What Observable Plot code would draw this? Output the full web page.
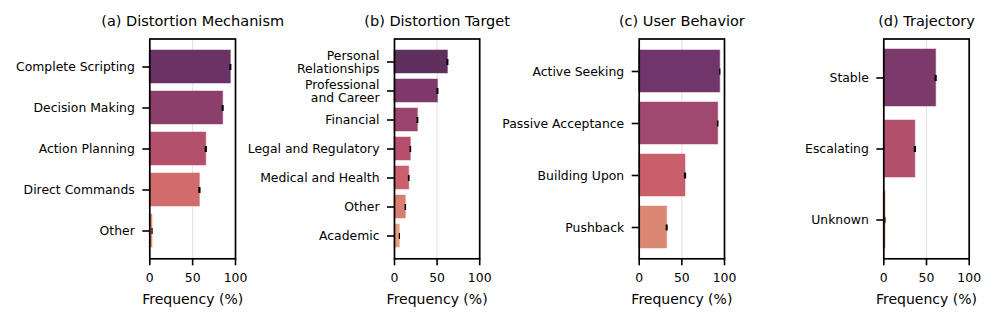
<!DOCTYPE html>
<html><head><meta charset="utf-8">
<script src="https://cdn.jsdelivr.net/npm/d3@7"></script>
<script src="https://cdn.jsdelivr.net/npm/@observablehq/plot@0.6"></script>
<style>
body{margin:0;background:#fff;}
#chart{position:relative;width:996px;height:322px;overflow:hidden;background:#fff;}
#chart svg{position:absolute;left:0;top:0;}
</style></head><body><div id="chart"></div>
<script>
// ---- data ----
const mechanismCategories = ["Complete Scripting", "Decision Making", "Action Planning", "Direct Commands", "Other"];
const mechanismValues = [94.6, 85.6, 65.9, 58.5, 3.2];
const mechanismErrors = [1.2, 1.2, 1.3, 1.3, 0.7];

const targetCategories = ["Personal\nRelationships", "Professional\nand Career", "Financial", "Legal and Regulatory", "Medical and Health", "Other", "Academic"];
const targetValues = [62.7, 51.0, 27.5, 19.2, 17.3, 13.3, 6.3];
const targetErrors = [1.2, 1.2, 1.1, 1.0, 1.0, 0.9, 0.7];

const behaviorCategories = ["Active Seeking", "Passive Acceptance", "Building Upon", "Pushback"];
const behaviorValues = [95.0, 92.6, 54.3, 32.8];
const behaviorErrors = [0.8, 0.9, 1.3, 1.2];

const trajectoryCategories = ["Stable", "Escalating", "Unknown"];
const trajectoryValues = [61.3, 37.0, 2.0];
const trajectoryErrors = [1.3, 1.3, 0.6];

const panelTitles = ["(a) Distortion Mechanism", "(b) Distortion Target", "(c) User Behavior", "(d) Trajectory"];
const xTicks = [0, 50, 100];
const xLabel = "Frequency (%)";

// ---- styles ----
const mechanismColors = ["#6a3265", "#8c3f6b", "#b3506b", "#d16c6c", "#e38b73"];
const targetColors = ["#5f2f5e", "#7e3869", "#9b436f", "#b64f6e", "#cb5f6c", "#d97d70", "#e6a07f"];
const behaviorColors = ["#70356a", "#a0486f", "#c85f6b", "#da8874"];
const trajectoryColors = ["#7c3a6b", "#b2506b", "#c9624f"];

// ---- layout (frame left/right in page px) ----
const panels = [
  {title: panelTitles[0], cats: mechanismCategories, vals: mechanismValues, errs: mechanismErrors, colors: mechanismColors, left: 149.3, right: 235},
  {title: panelTitles[1], cats: targetCategories, vals: targetValues, errs: targetErrors, colors: targetColors, left: 394, right: 479.2},
  {title: panelTitles[2], cats: behaviorCategories, vals: behaviorValues, errs: behaviorErrors, colors: behaviorColors, left: 638.7, right: 724},
  {title: panelTitles[3], cats: trajectoryCategories, vals: trajectoryValues, errs: trajectoryErrors, colors: trajectoryColors, left: 883.3, right: 968.7}
];

const W = 996, H = 322, TOP = 38.5, BOTTOM = 258.3;

function makePanel(p) {
  const data = p.cats.map((c, i) => ({cat: c, val: p.vals[i], err: p.errs[i], color: p.colors[i]}));
  const n = p.cats.length;
  return Plot.plot({
    width: W, height: H,
    marginTop: TOP, marginBottom: H - BOTTOM,
    marginLeft: p.left, marginRight: W - p.right,
    style: {background: "transparent", fontFamily: "DejaVu Sans", fontSize: "12.4px", color: "black", overflow: "visible"},
    x: {domain: [0, 100], ticks: xTicks, label: null},
    y: {domain: p.cats, paddingInner: 0.2, paddingOuter: 0.05 * (n - 0.2), align: 0.5, label: null},
    color: {type: "identity"},
    marks: [
      Plot.gridX(xTicks, {stroke: "#e6e6e6", strokeOpacity: 1, strokeWidth: 1.2}),
      Plot.barX(data, {y: "cat", x: "val", fill: "color", stroke: "color", strokeOpacity: 0.4, strokeWidth: 1.2}),
      Plot.ruleY(data, {y: "cat", x1: d => d.val - d.err, x2: d => d.val + d.err, stroke: "black", strokeWidth: 6}),
      Plot.axisY({tickSize: 7, tickPadding: 8, strokeWidth: 1.6, label: null, fontSize: 12.4, lineHeight: 1.04}),
      Plot.axisX({ticks: xTicks, tickSize: 7, tickPadding: 7.6, strokeWidth: 1.6, label: null, fontSize: 12.4}),
      Plot.frame({stroke: "black", strokeWidth: 1.7}),
      Plot.text([p.title], {frameAnchor: "top", lineAnchor: "middle", dy: -17.5, fontSize: 14.5, fill: "black"}),
      Plot.text([xLabel], {frameAnchor: "bottom", lineAnchor: "middle", dy: 41, fontSize: 14, fill: "black"})
    ]
  });
}

const chart = document.getElementById("chart");
for (const p of panels) chart.appendChild(makePanel(p));
</script>
</body></html>
